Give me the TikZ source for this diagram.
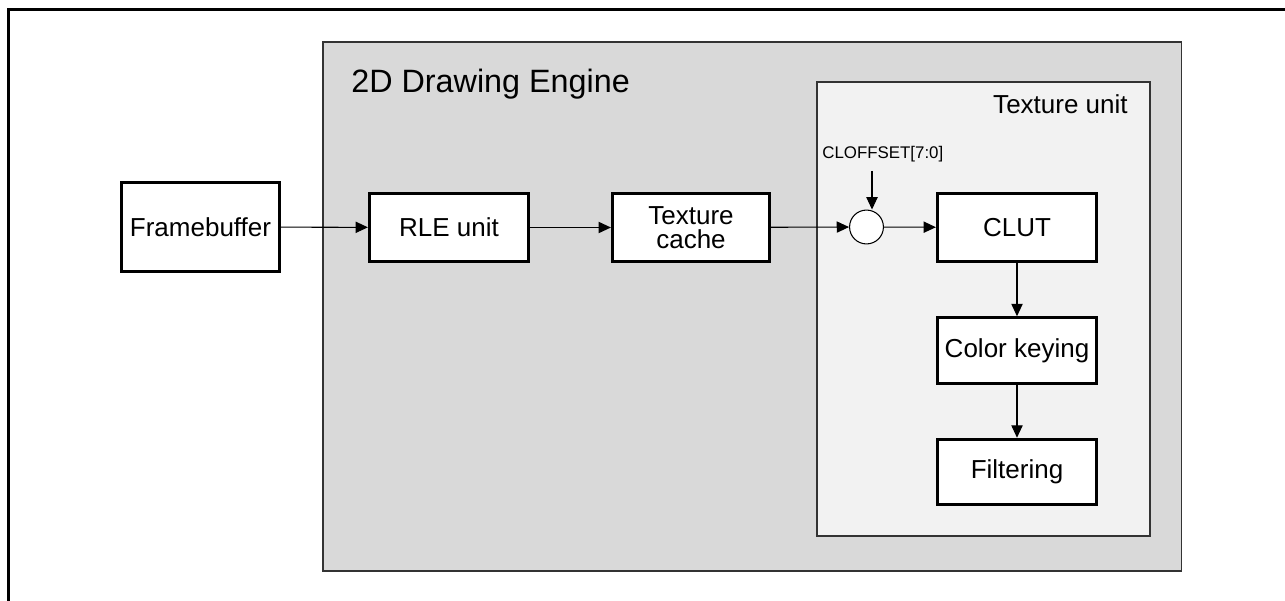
\documentclass[tikz,border=0pt]{standalone}
\usepackage{fontspec}
\setmainfont{Liberation Sans}
\usetikzlibrary{arrows.meta}
\begin{document}
\begin{tikzpicture}[x=0.02cm,y=-0.02cm,
  blk/.style={draw=black,line width=1.6pt,fill=white,inner sep=0pt,align=center,
    font=\fontsize{14.8}{13.5}\selectfont},
  conn/.style={line width=0.6pt,-{Triangle[length=7pt,width=6.4pt]}},
  lbl/.style={inner sep=0pt}]
\useasboundingbox (0,0) rectangle (1285,601);
% outer frame (top and left only visible)
\draw[line width=1.8pt] (8.5,603) -- (8.5,9.5) -- (1287,9.5);
% engine
\draw[fill=black!15,draw=black!80,line width=0.6pt] (323,42) rectangle (1181.5,571);
\node[lbl,anchor=west,font=\fontsize{18.4}{20}\selectfont] (title) at (351,84) {2D Drawing Engine};
% texture unit
\draw[fill=black!5,draw=black!80,line width=0.6pt] (817,82) rectangle (1150,536);
\node[lbl,anchor=east,font=\fontsize{14.8}{17}\selectfont] (tu) at (1128,104) {Texture unit};
% blocks
\node[blk,minimum width=159pt*0.567,minimum height=90pt*0.567] (fb) at (200.5,227) {Framebuffer};
\node[blk,minimum width=160pt*0.567,minimum height=69pt*0.567] (rle) at (449,227.5) {RLE unit};
\node[blk,minimum width=158pt*0.567,minimum height=68pt*0.567] (tc) at (691,227.5) {Texture\\cache};
\node[draw=black,line width=0.6pt,fill=white,circle,minimum size=34pt*0.567,inner sep=0pt] (sum) at (866.5,227) {};
\node[blk,minimum width=160pt*0.567,minimum height=69pt*0.567] (clut) at (1017,227.5) {CLUT};
\node[blk,minimum width=160pt*0.567,minimum height=66pt*0.567] (ck) at (1017,350.5) {Color keying};
\node[blk,minimum width=160pt*0.567,minimum height=66pt*0.567] (filt) at (1017,472) {Filtering};
\node[lbl,anchor=west,font=\fontsize{9.6}{11}\selectfont] (cloff) at (822,154) {CLOFFSET[7:0]};
\coordinate (cin) at (872,171);
% connectors
\draw[conn] (fb) -- (rle);
\draw[conn] (rle) -- (tc);
\draw[conn] (tc) -- (sum);
\draw[conn] (sum) -- (clut);
\draw[conn] (cin) -- (sum.north -| cin);
\draw[conn] (clut) -- (ck);
\draw[conn] (ck) -- (filt);
\end{tikzpicture}
\end{document}
